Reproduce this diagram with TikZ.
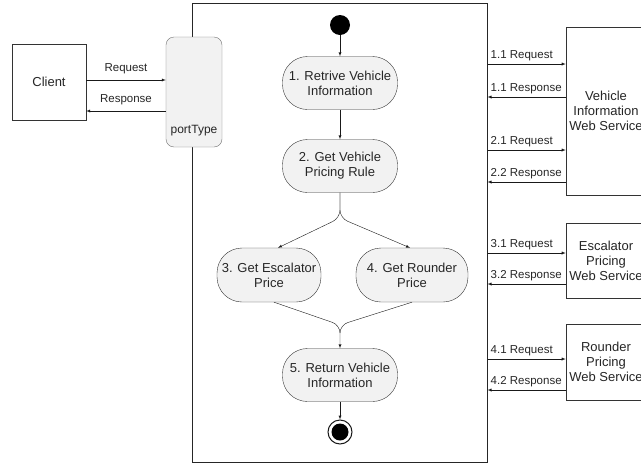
\documentclass[tikz,border=0pt]{standalone}
\usepackage{fontspec}
\setmainfont{Liberation Sans}
\usetikzlibrary{positioning}

\begin{document}
\begin{tikzpicture}[x=1pt,y=-1pt]
\tikzset{act/.style={draw=black!80, fill=black!5, rounded corners=25pt, minimum width=115pt, minimum height=53pt, align=center, font=\fontsize{13}{15}\selectfont, text=black!85}}
\tikzset{wsbox/.style={draw=black!80, fill=white, minimum width=76pt, align=center, font=\fontsize{13}{15}\selectfont, text=black!85}}
\tikzset{flow/.style={draw=black!90, -latex}}
\tikzset{msg/.style={font=\fontsize{11.5}{14}\selectfont, text=black!85, inner sep=3pt}}
\useasboundingbox (0,0) rectangle (641,464);
\clip (0,0) rectangle (641,464);
% frame of the process
\node[draw=black!85, line width=1pt, minimum width=295pt, minimum height=459pt, inner sep=0pt] (frame) at (339.5,232.5) {};
% client side
\node[wsbox, minimum width=74pt, minimum height=76pt] (client) at (49,82) {Client};
\node[draw=black!55, fill=black!5, rounded corners=8pt, minimum width=56pt, minimum height=110pt] (port) at (194,92) {};
\node[font=\fontsize{12}{14}\selectfont, text=black!85] (porttxt) at (194,131) {portType};
\draw[flow] ([yshift=2pt]client.east) -- ([yshift=2pt]client.east -| port.west) node[midway, above=3pt, msg] {Request};
\draw[flow] ([yshift=-29pt]client.east -| port.west) -- ([yshift=-29pt]client.east) node[midway, above=3pt, msg] {Response};
% activities
\node[circle, fill=black, minimum size=20pt, inner sep=0pt] (start) at (340,25) {};
\node[act] (a1) at (340,83) {1. Retrive Vehicle\\Information};
\node[act] (a2) at (340,166) {2. Get Vehicle\\Pricing Rule};
\node[act, minimum width=104pt, minimum height=54pt] (a3) at (269,275) {3. Get Escalator\\Price};
\node[act, minimum width=112pt, minimum height=54pt] (a4) at (412,275) {4. Get Rounder\\Price};
\node[act] (a5) at (340,375) {5. Return Vehicle\\Information};
\node[circle, draw=black!90, line width=1pt, minimum size=24pt, inner sep=0pt] (stop) at (340,432) {};
\fill (stop.center) circle (8.5pt);
\coordinate (fork) at (340,218);
\coordinate (join) at (340,325);
\draw[flow] (start) -- (a1);
\draw[flow] (a1) -- (a2);
\draw[flow, rounded corners=8pt] (a2.south) -- (fork) -- ([xshift=9pt]a3.north);
\draw[flow, rounded corners=8pt] (a2.south) -- (fork) -- ([xshift=-2pt]a4.north);
\draw[black!90, rounded corners=8pt] ([xshift=5pt]a3.south) -- (join) -- ([yshift=-8pt]join);
\draw[flow, rounded corners=8pt] (a4.south) -- (join) -- (a5.north);
\draw[flow] (a5) -- (stop);
% web services
\node[wsbox, minimum height=168pt] (vehws) at (606,111) {Vehicle\\Information\\Web Service};
\node[wsbox, minimum height=75pt] (escws) at (606,260.5) {Escalator\\Pricing\\Web Service};
\node[wsbox, minimum height=76pt] (rndws) at (606,362) {Rounder\\Pricing\\Web Service};
\draw[flow] ([yshift=47pt]vehws.west -| frame.east) -- ([yshift=47pt]vehws.west) node[pos=0, anchor=south west, msg] {1.1 Request};
\draw[flow] ([yshift=14pt]vehws.west) -- ([yshift=14pt]vehws.west -| frame.east) node[pos=1, anchor=south west, msg] {1.1 Response};
\draw[flow] ([yshift=-39pt]vehws.west -| frame.east) -- ([yshift=-39pt]vehws.west) node[pos=0, anchor=south west, msg] {2.1 Request};
\draw[flow] ([yshift=-71pt]vehws.west) -- ([yshift=-71pt]vehws.west -| frame.east) node[pos=1, anchor=south west, msg] {2.2 Response};
\draw[flow] ([yshift=7.5pt]escws.west -| frame.east) -- ([yshift=7.5pt]escws.west) node[pos=0, anchor=south west, msg] {3.1 Request};
\draw[flow] ([yshift=-23.5pt]escws.west) -- ([yshift=-23.5pt]escws.west -| frame.east) node[pos=1, anchor=south west, msg] {3.2 Response};
\draw[flow] ([yshift=3pt]rndws.west -| frame.east) -- ([yshift=3pt]rndws.west) node[pos=0, anchor=south west, msg] {4.1 Request};
\draw[flow] ([yshift=-28pt]rndws.west) -- ([yshift=-28pt]rndws.west -| frame.east) node[pos=1, anchor=south west, msg] {4.2 Response};
\end{tikzpicture}
\end{document}
